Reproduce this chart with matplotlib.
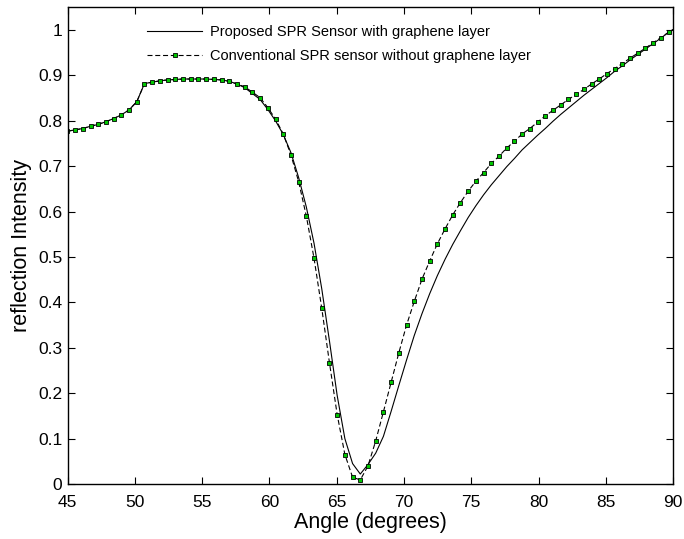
import numpy as np
import matplotlib
matplotlib.use("Agg")
import matplotlib.pyplot as plt
from matplotlib.ticker import FuncFormatter

plt.rcParams['font.family'] = ['Liberation Sans', 'DejaVu Sans']

# incidence angle samples (radians)
angle_rad = [0.785, 0.795, 0.805, 0.815, 0.825, 0.835, 0.845, 0.855, 0.865, 0.875,
             0.885, 0.895, 0.905, 0.915, 0.925, 0.935, 0.945, 0.955, 0.965, 0.975,
             0.985, 0.995, 1.005, 1.015, 1.025, 1.035, 1.045, 1.055, 1.065, 1.075,
             1.085, 1.095, 1.105, 1.115, 1.125, 1.135, 1.145, 1.155, 1.165, 1.175,
             1.185, 1.195, 1.205, 1.215, 1.225, 1.235, 1.245, 1.255, 1.265, 1.275,
             1.285, 1.295, 1.305, 1.315, 1.325, 1.335, 1.345, 1.355, 1.365, 1.375,
             1.385, 1.395, 1.405, 1.415, 1.425, 1.435, 1.445, 1.455, 1.465, 1.475,
             1.485, 1.495, 1.505, 1.515, 1.525, 1.535, 1.545, 1.555, 1.565, 1.575]

# Proposed SPR sensor with graphene layer
with_graphene = [0.777, 0.780, 0.783, 0.788, 0.792, 0.798, 0.805, 0.813, 0.824, 0.842,
                 0.882, 0.885, 0.888, 0.890, 0.891, 0.892, 0.892, 0.892, 0.892, 0.891,
                 0.890, 0.887, 0.881, 0.873, 0.860, 0.847, 0.825, 0.800, 0.770, 0.730,
                 0.675, 0.610, 0.530, 0.430, 0.315, 0.195, 0.100, 0.045, 0.022, 0.043,
                 0.068, 0.105, 0.160, 0.217, 0.273, 0.327, 0.375, 0.419, 0.459, 0.495,
                 0.528, 0.558, 0.587, 0.613, 0.637, 0.659, 0.679, 0.699, 0.717, 0.736,
                 0.752, 0.768, 0.783, 0.799, 0.814, 0.828, 0.842, 0.856, 0.869, 0.882,
                 0.895, 0.909, 0.921, 0.934, 0.946, 0.958, 0.970, 0.982, 0.995, 1.005]

# Conventional SPR sensor without graphene layer
without_graphene = [0.777, 0.780, 0.783, 0.788, 0.792, 0.798, 0.805, 0.813, 0.824, 0.842,
                    0.882, 0.885, 0.888, 0.890, 0.891, 0.892, 0.892, 0.892, 0.892, 0.891,
                    0.890, 0.887, 0.881, 0.875, 0.863, 0.851, 0.829, 0.804, 0.771, 0.725,
                    0.666, 0.590, 0.497, 0.387, 0.267, 0.153, 0.065, 0.015, 0.009, 0.040,
                    0.095, 0.159, 0.224, 0.289, 0.350, 0.402, 0.451, 0.491, 0.529, 0.562,
                    0.593, 0.620, 0.645, 0.667, 0.686, 0.706, 0.722, 0.740, 0.755, 0.771,
                    0.783, 0.797, 0.811, 0.823, 0.835, 0.847, 0.858, 0.869, 0.881, 0.892,
                    0.904, 0.915, 0.926, 0.938, 0.949, 0.960, 0.972, 0.983, 0.995, 1.005]

labels = ['Proposed SPR Sensor with graphene layer',
          'Conventional SPR sensor without graphene layer']
x_ticks = [45, 50, 55, 60, 65, 70, 75, 80, 85, 90]
y_ticks = [0, 0.1, 0.2, 0.3, 0.4, 0.5, 0.6, 0.7, 0.8, 0.9, 1.0]

angle_deg = np.degrees(np.array(angle_rad))

fig = plt.figure(figsize=(6.84, 5.39), dpi=100)
ax = fig.add_axes([0.099, 0.102, 0.885, 0.8845])

ax.plot(angle_deg, with_graphene, color='black', linewidth=0.8, label=labels[0])
ax.plot(angle_deg, without_graphene, color='black', linewidth=0.8,
        linestyle=(0, (4.5, 2.5)), marker='s', markersize=3.0,
        markerfacecolor='#00c800', markeredgecolor='black', markeredgewidth=0.6,
        label=labels[1])

ax.set_xlim(45, 90)
ax.set_ylim(0, 1.05)
ax.set_xticks(x_ticks)
ax.set_yticks(y_ticks)
ax.yaxis.set_major_formatter(FuncFormatter(lambda v, p: f'{v:g}'))
ax.tick_params(direction='in', top=True, right=True, length=5, width=0.8,
               labelsize=12.5)
ax.tick_params(axis='x', pad=8)
ax.tick_params(axis='y', pad=4)
for s in ax.spines.values():
    s.set_linewidth(1.0)

ax.set_xlabel('Angle (degrees)', fontsize=15.5, labelpad=1)
ax.set_ylabel('reflection Intensity', fontsize=15.5, labelpad=4)

ax.legend(loc='upper left', bbox_to_anchor=(0.131, 0.963), frameon=False,
          fontsize=10.5, handlelength=3.8, handletextpad=0.5, numpoints=1,
          borderaxespad=0, borderpad=0, labelspacing=0.7)

fig.savefig('out.png', dpi=100)
